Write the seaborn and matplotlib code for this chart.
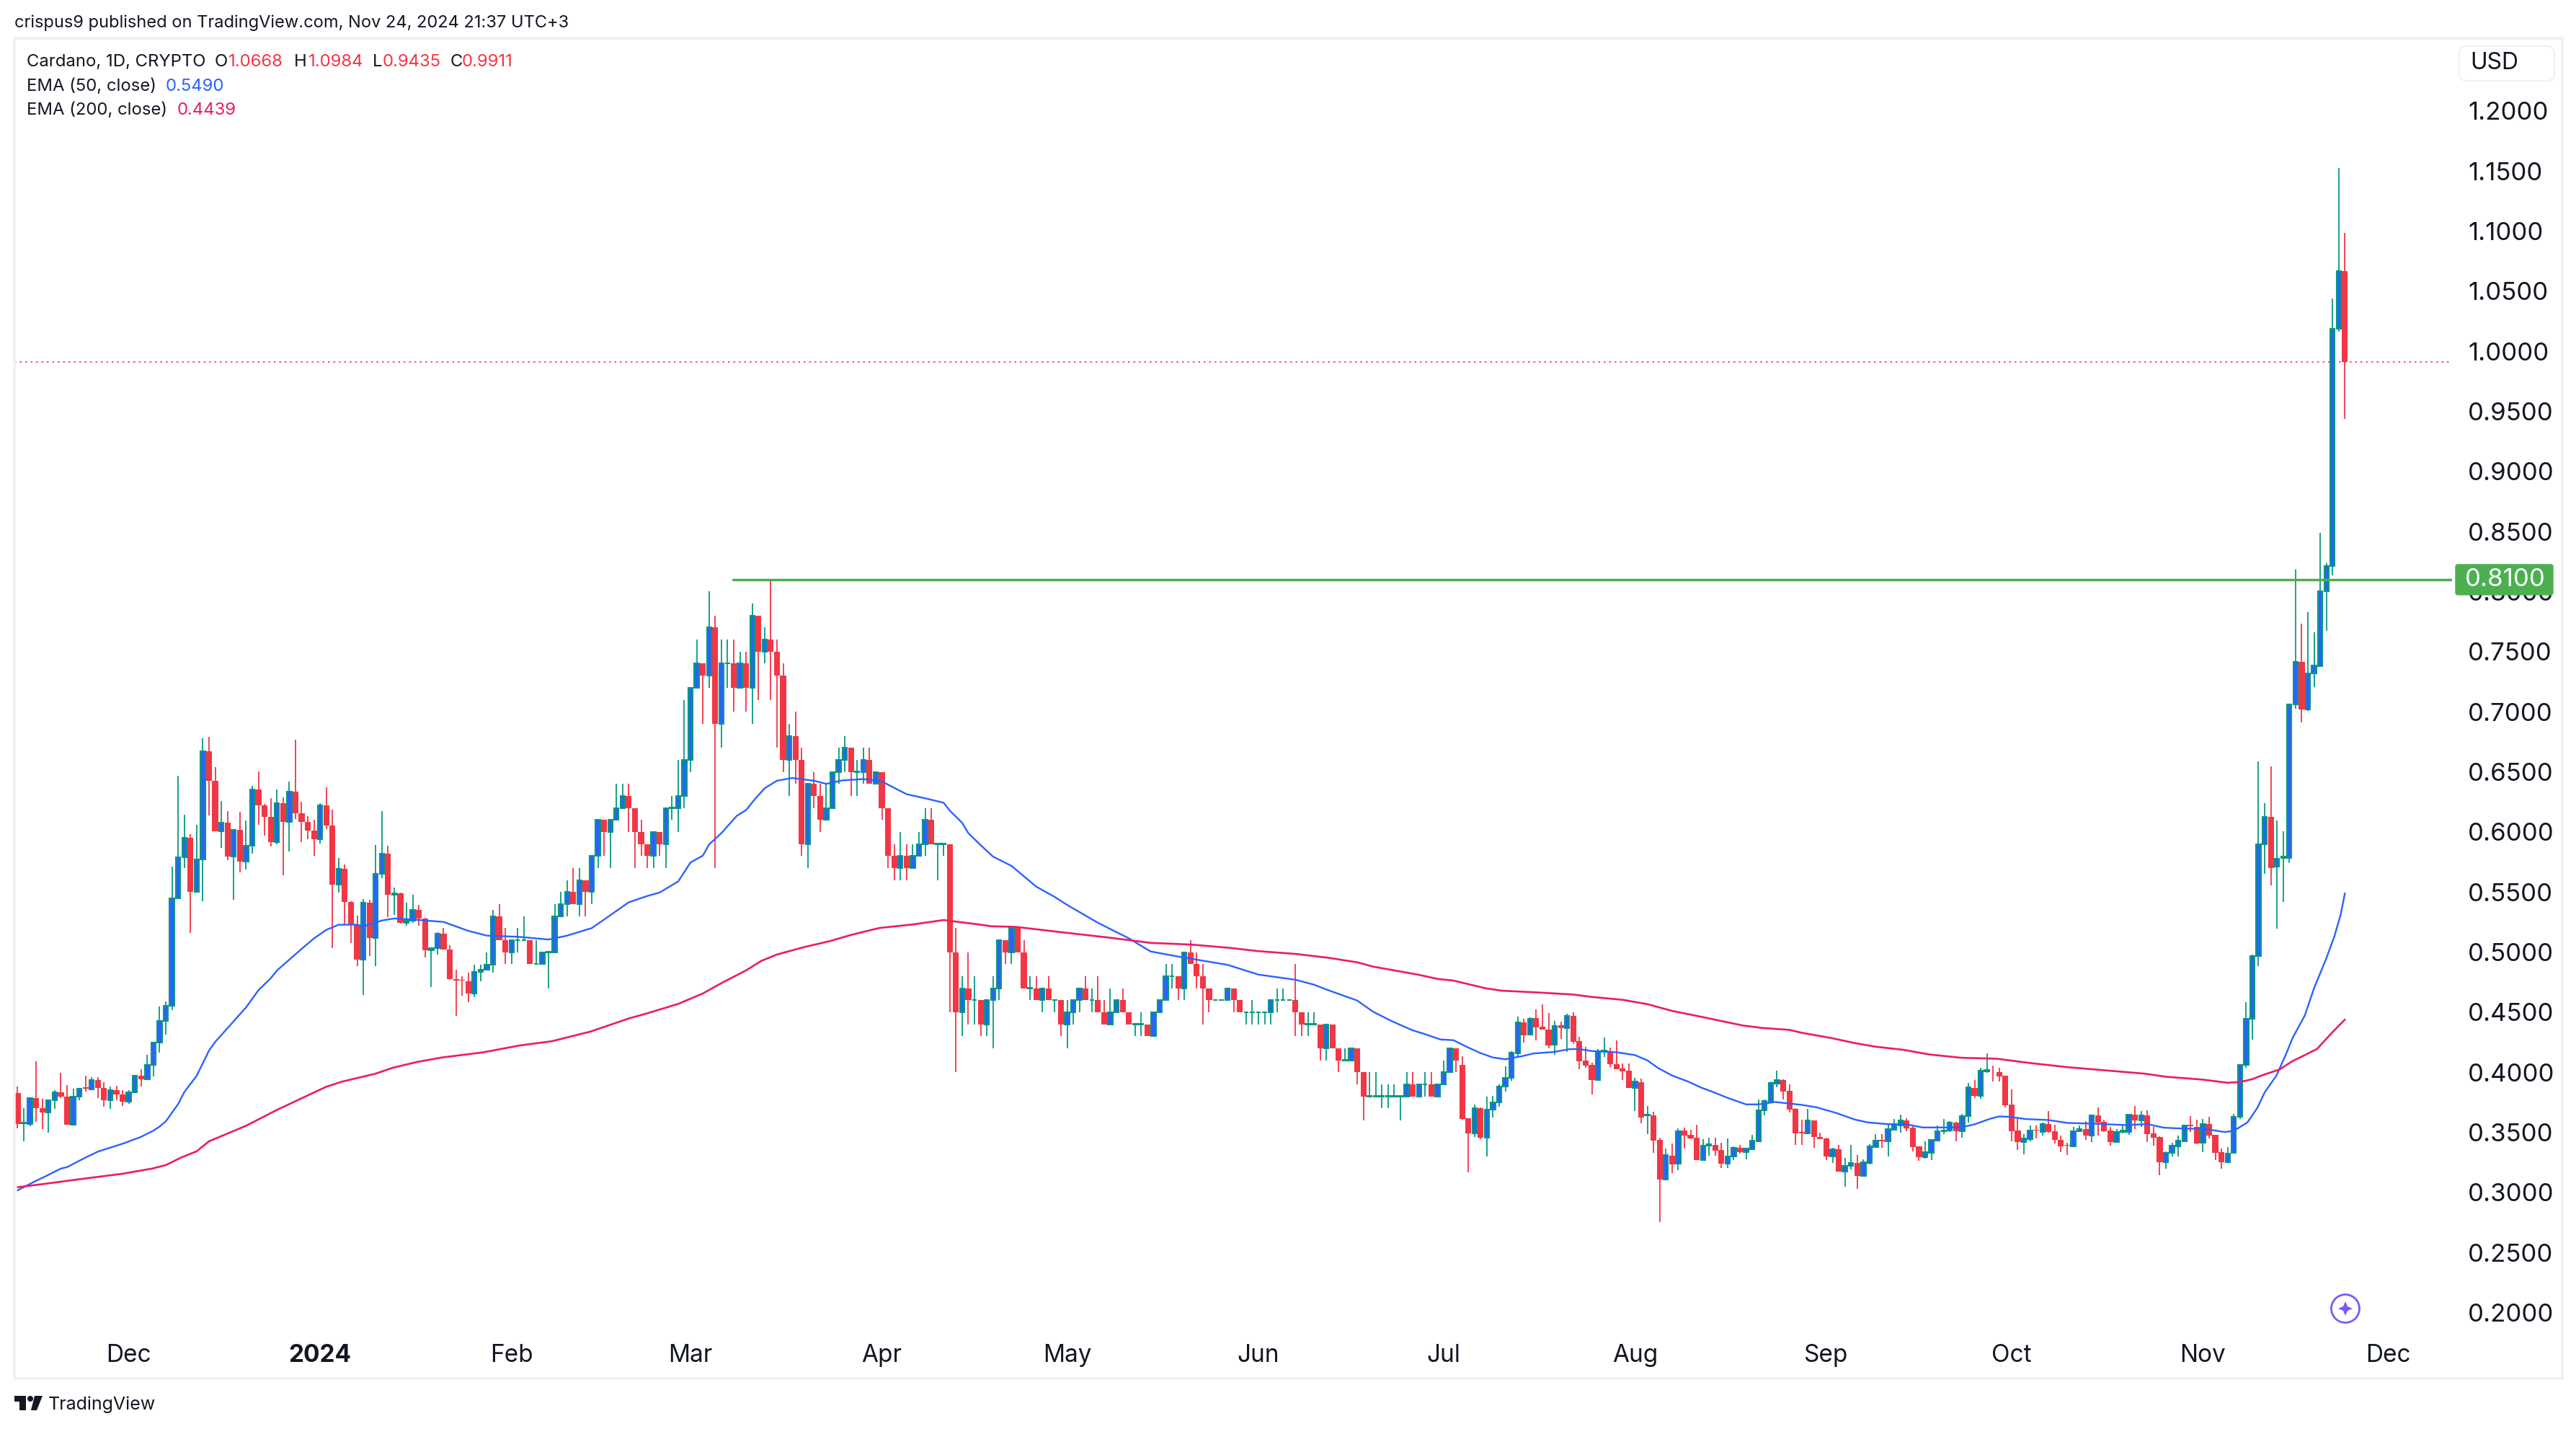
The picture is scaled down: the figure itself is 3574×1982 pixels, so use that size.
"""
Cardano daily candlesticks with EMA 50 / EMA 200 (TradingView style)
"""

import matplotlib
matplotlib.use('Agg')
import matplotlib.pyplot as plt
from matplotlib.patches import Circle, FancyBboxPatch, Polygon, Rectangle
from matplotlib.transforms import Affine2D
import pandas as pd
import seaborn as sns

# Daily candles, first one is Nov 13 2023
start_date = '2023-11-13'

opens = [
    .383, .3575, .3572, .3785, .3704, .3664, .377, .3836, .3799, .3561,
    .3799, .3874, .3856, .3937, .3868, .377, .3854, .3813, .3753, .3836,
    .3974, .3943, .4063, .425, .4425, .4551, .5449, .5788, .5949, .5501,
    .5774, .6672, .6428, .6003, .6075, .5797, .6018, .5756, .5888, .6351,
    .6224, .6127, .5917, .6241, .6086, .6333, .6158, .6081, .6009, .5937,
    .6224, .6052, .5564, .5696, .5415, .5228, .4939, .5409, .5119, .5653,
    .5817, .5475, .5487, .5246, .526, .5349, .5277, .5013, .5036, .5151,
    .5022, .4775, .4769, .4755, .4657, .4835, .4855, .4898, .53, .51,
    .50, .51, .51, .51, .49, .49, .50, .50, .53, .54,
    .55, .54, .56, .55, .58, .61, .60, .61, .62, .63,
    .62, .60, .59, .58, .60, .59, .62, .62, .63, .66,
    .72, .74, .73, .77, .69, .74, .74, .72, .74, .72,
    .78, .75, .76, .75, .73, .66, .68, .66, .59, .64,
    .63, .61, .62, .65, .66, .67, .65, .65, .66, .64,
    .65, .62, .58, .57, .58, .57, .58, .59, .61, .59,
    .59, .59, .50, .45, .47, .46, .46, .44, .46, .47,
    .51, .50, .52, .50, .47, .47, .46, .47, .46, .46,
    .44, .45, .46, .47, .46, .46, .45, .44, .45, .46,
    .45, .44, .44, .44, .43, .45, .46, .48, .48, .47,
    .50, .49, .48, .47, .46, .46, .46, .47, .46, .45,
    .45, .45, .45, .45, .46, .46, .46, .46, .45, .44,
    .44, .44, .42, .44, .42, .41, .41, .42, .40, .38,
    .38, .38, .38, .38, .38, .38, .39, .38, .39, .39,
    .38, .39, .40, .42, .4059, .3615, .3493, .3699, .3457, .3687,
    .3747, .3879, .3953, .4159, .4413, .4313, .4449, .4379, .4355, .4231,
    .4391, .4369, .4469, .4257, .4097, .4059, .3937, .4173, .4175, .4067,
    .4029, .4013, .3871, .3917, .3639, .3639, .3437, .3109, .3303, .3237,
    .3515, .3477, .3453, .3271, .3391, .3395, .3353, .3241, .3297, .3369,
    .3337, .3361, .3425, .3681, .3757, .3907, .3935, .3843, .3693, .3503,
    .3493, .3599, .3463, .3447, .3301, .3357, .3175, .3223, .3243, .3139,
    .3247, .3377, .3437, .3423, .3523, .3559, .3599, .3539, .3383, .3295,
    .3331, .3433, .3507, .3517, .3579, .3511, .3633, .3869, .3805, .4009,
    .4015, .3999, .3969, .3729, .3513, .3421, .3443, .3519, .3501, .3567,
    .3507, .3439, .3393, .3383, .3507, .3527, .3473, .3639, .3585, .3515,
    .3421, .3503, .3505, .3647, .3601, .3639, .3491, .3461, .3253, .3327,
    .3385, .3427, .3561, .3545, .3411, .3567, .3479, .3333, .3253, .3327,
    .3627, .4063, .4443, .4965, .5895, .6123, .5714, .5786, .5786, .7061,
    .7415, .7019, .7318, .7381, .8005, .8215, 1.0185, 1.0668,
]

highs = [
    .388, .3699, .3791, .4089, .3779, .377, .3851, .3994, .3894, .3865,
    .3865, .3971, .396, .3957, .3917, .388, .3888, .3851, .3851, .3974,
    .4023, .4144, .4255, .4548, .4588, .5711, .6468, .6144, .598, .6058,
    .6778, .679, .654, .6256, .6173, .6023, .6167, .6095, .6385, .6506,
    .6233, .6279, .6351, .629, .6422, .6767, .6253, .613, .6101, .6239,
    .6371, .6184, .5782, .5731, .5426, .5303, .5441, .5435, .5891, .6173,
    .5886, .5538, .5495, .5409, .5478, .5392, .5283, .5042, .5168, .52,
    .5056, .4855, .4798, .4832, .4898, .4895, .4999, .535, .54, .52,
    .51, .52, .53, .51, .51, .50, .50, .54, .55, .56,
    .57, .57, .56, .58, .61, .61, .61, .64, .64, .64,
    .62, .61, .59, .60, .60, .62, .63, .66, .71, .72,
    .76, .74, .80, .78, .76, .76, .76, .75, .75, .79,
    .78, .77, .81, .76, .74, .69, .70, .67, .64, .65,
    .64, .64, .65, .67, .68, .67, .66, .67, .67, .65,
    .65, .62, .59, .60, .59, .59, .60, .62, .62, .59,
    .59, .59, .52, .48, .50, .48, .46, .46, .48, .51,
    .51, .52, .52, .51, .48, .48, .47, .48, .46, .46,
    .46, .46, .47, .48, .47, .48, .46, .47, .46, .47,
    .45, .44, .45, .44, .45, .46, .49, .49, .48, .50,
    .51, .50, .49, .47, .46, .46, .47, .47, .46, .45,
    .46, .45, .45, .46, .47, .47, .46, .49, .45, .45,
    .45, .44, .44, .44, .42, .42, .42, .42, .40, .40,
    .40, .39, .39, .39, .38, .40, .40, .39, .40, .40,
    .39, .41, .42, .42, .4133, .3615, .3731, .3709, .3797, .3803,
    .3899, .4047, .4173, .4463, .4443, .4457, .4523, .4563, .4493, .4427,
    .4419, .4487, .4499, .4295, .4211, .4079, .4191, .4289, .4207, .4263,
    .4071, .4071, .3951, .3947, .3717, .3669, .3455, .3363, .3407, .3533,
    .3539, .3519, .3563, .3443, .3453, .3453, .3413, .3447, .3383, .3395,
    .3373, .3479, .3771, .3773, .3923, .4013, .3941, .3899, .3703, .3603,
    .3693, .3599, .3497, .3453, .3369, .3395, .3287, .3393, .3311, .3273,
    .3403, .3483, .3487, .3563, .3611, .3647, .3615, .3553, .3383, .3423,
    .3435, .3559, .3609, .3591, .3587, .3651, .3909, .3933, .4035, .4157,
    .4053, .4037, .3969, .3857, .3615, .3487, .3557, .3557, .3579, .3677,
    .3563, .3471, .3413, .3543, .3559, .3593, .3647, .3707, .3605, .3547,
    .3527, .3567, .3653, .3719, .3677, .3683, .3543, .3465, .3341, .3413,
    .3473, .3563, .3635, .3607, .3611, .3629, .3479, .3363, .3377, .3653,
    .4063, .4583, .4979, .6586, .6241, .6544, .6098, .6005, .7061, .8181,
    .7731, .7828, .7659, .8489, .8236, 1.0438, 1.1524, 1.0984,
]

lows = [
    .3535, .3426, .3549, .359, .3529, .3498, .3693, .3785, .3561, .3561,
    .3765, .3842, .3851, .3785, .3716, .3693, .3765, .3722, .3736, .3831,
    .388, .3934, .3966, .4166, .4316, .4519, .5444, .5702, .5162, .5501,
    .5424, .6138, .6003, .5868, .5768, .5438, .5665, .5688, .5822, .6061,
    .5972, .5877, .59, .5642, .584, .6109, .5917, .5937, .5802, .5906,
    .6026, .5036, .5495, .5228, .5076, .4884, .4646, .4967, .4884, .5616,
    .5291, .5309, .524, .5217, .5243, .5217, .4956, .4709, .4979, .5022,
    .4769, .4471, .4637, .4585, .4626, .4755, .4847, .4832, .51, .49,
    .49, .50, .51, .49, .49, .49, .47, .50, .53, .53,
    .54, .53, .53, .54, .57, .58, .57, .61, .62, .60,
    .57, .58, .57, .57, .58, .57, .61, .60, .62, .65,
    .72, .69, .72, .57, .67, .72, .70, .72, .70, .69,
    .71, .74, .71, .67, .65, .63, .64, .58, .57, .62,
    .60, .61, .62, .64, .65, .63, .63, .64, .64, .64,
    .61, .57, .56, .56, .56, .57, .58, .58, .59, .56,
    .58, .45, .40, .43, .44, .44, .43, .43, .42, .46,
    .49, .49, .50, .47, .46, .46, .45, .46, .45, .43,
    .42, .44, .45, .46, .45, .45, .44, .44, .45, .45,
    .44, .43, .43, .43, .43, .45, .46, .47, .46, .46,
    .49, .47, .44, .45, .46, .46, .46, .45, .45, .44,
    .44, .44, .44, .44, .45, .46, .46, .43, .43, .43,
    .44, .41, .41, .42, .40, .41, .41, .39, .36, .38,
    .38, .37, .37, .38, .36, .38, .38, .38, .38, .38,
    .38, .39, .40, .40, .3607, .3169, .3463, .3443, .3301, .3623,
    .3713, .3839, .3929, .4123, .4249, .4307, .4267, .4357, .4199, .4147,
    .4279, .4167, .4237, .4027, .4039, .3817, .3937, .4127, .4043, .4027,
    .3937, .3871, .3677, .3577, .3487, .3329, .2753, .3109, .3163, .3187,
    .3367, .3443, .3271, .3263, .3307, .3303, .3203, .3203, .3271, .3323,
    .3275, .3355, .3421, .3643, .3747, .3877, .3773, .3663, .3397, .3397,
    .3493, .3373, .3445, .3271, .3247, .3175, .3049, .3193, .3031, .3139,
    .3235, .3373, .3373, .3301, .3517, .3499, .3509, .3343, .3263, .3283,
    .3271, .3433, .3487, .3503, .3427, .3455, .3583, .3785, .3781, .3997,
    .3923, .3923, .3709, .3427, .3353, .3319, .3427, .3447, .3473, .3499,
    .3409, .3337, .3313, .3379, .3503, .3437, .3421, .3473, .3503, .3391,
    .3421, .3493, .3481, .3527, .3547, .3421, .3391, .3143, .3199, .3299,
    .3299, .3427, .3503, .3401, .3337, .3449, .3269, .3199, .3253, .3327,
    .3613, .4039, .4273, .4883, .5651, .5554, .5197, .542, .5744, .7028,
    .6914, .7007, .7205, .7381, .7672, .8135, 1.0164, .9435,
]

closes = [
    .357, .358, .3785, .3704, .3664, .377, .3836, .3799, .3561, .3799,
    .3865, .3865, .3937, .3868, .377, .3854, .3813, .3753, .3836, .3974,
    .3943, .4063, .425, .4425, .4551, .5449, .5788, .5949, .5501, .5774,
    .6672, .6428, .6003, .6075, .5797, .6018, .5756, .5888, .6351, .6224,
    .6127, .5917, .6241, .6086, .6333, .6158, .6081, .6009, .5937, .6224,
    .6052, .5564, .5696, .5415, .5228, .4939, .5409, .5119, .5653, .5817,
    .5475, .5487, .5246, .526, .5349, .5277, .5013, .5036, .5151, .5022,
    .4775, .4761, .4761, .4657, .4835, .4855, .4898, .53, .51, .50,
    .51, .51, .51, .49, .49, .50, .50, .53, .54, .55,
    .54, .56, .55, .58, .61, .60, .61, .62, .63, .62,
    .60, .59, .58, .60, .59, .62, .62, .63, .66, .72,
    .74, .73, .77, .69, .74, .74, .72, .74, .72, .78,
    .75, .76, .75, .73, .66, .68, .66, .59, .64, .63,
    .61, .62, .65, .66, .67, .65, .65, .66, .64, .65,
    .62, .58, .57, .58, .57, .58, .59, .61, .59, .59,
    .59, .50, .45, .47, .46, .46, .44, .46, .47, .51,
    .50, .52, .50, .47, .47, .46, .47, .46, .46, .44,
    .45, .46, .47, .46, .46, .45, .44, .45, .46, .45,
    .44, .44, .44, .43, .45, .46, .48, .48, .47, .50,
    .49, .48, .47, .46, .46, .46, .47, .46, .45, .45,
    .45, .45, .45, .46, .46, .46, .46, .45, .44, .44,
    .44, .42, .44, .42, .41, .41, .42, .40, .38, .38,
    .38, .38, .38, .38, .38, .39, .38, .39, .39, .38,
    .39, .40, .42, .41, .3611, .3493, .3699, .3453, .3689, .3747,
    .3879, .3951, .4161, .4413, .4309, .4443, .4373, .4357, .4223, .4383,
    .4369, .4469, .4253, .4093, .4057, .3937, .4173, .4179, .4069, .4027,
    .4007, .3871, .3921, .3625, .3647, .3433, .3109, .3309, .3235, .3507,
    .3473, .3449, .3271, .3387, .3399, .3349, .3241, .3297, .3369, .3335,
    .3363, .3429, .3681, .3759, .3909, .3933, .3839, .3691, .3493, .3493,
    .3599, .3463, .3445, .3299, .3357, .3175, .3223, .3243, .3139, .3249,
    .3381, .3429, .3427, .3525, .3569, .3597, .3535, .3379, .3295, .3333,
    .3435, .3507, .3517, .3579, .3509, .3633, .3873, .3805, .4011, .4017,
    .4011, .3967, .3725, .3509, .3421, .3447, .3513, .3513, .3567, .3503,
    .3439, .3385, .3387, .3507, .3527, .3473, .3639, .3581, .3509, .3421,
    .3501, .3513, .3645, .3601, .3639, .3487, .3457, .3253, .3327, .3387,
    .3429, .3555, .3553, .3407, .3567, .3475, .3331, .3253, .3325, .3627,
    .4063, .4443, .4965, .5895, .6123, .5702, .5778, .5798, .7061, .7415,
    .7019, .7318, .7386, .8005, .8215, 1.0185, 1.0665, .9911,
]

# EMA readings: day number since the first candle, then price
ema50_days = [
    0, 2.7, 4.8, 7, 8, 11, 13, 17, 20, 22, 23, 24, 26, 27, 29, 31, 32, 35, 37, 39,
    41, 42, 46, 48, 50, 52, 55, 56, 59, 61, 64, 69, 73, 76, 81, 86, 89, 93, 95, 99,
    102, 104, 107, 109, 111, 112, 114, 116.5, 118, 119.5, 121, 123, 125.5, 129, 131,
    133.6, 137, 140, 141.6, 144, 147, 150, 151, 153, 154, 156, 158, 161, 165, 168,
    170, 175, 177, 180, 183.5, 188, 196, 201, 207, 210, 212, 217, 219.6, 222.7, 226,
    228, 230.5, 232.6, 234.7, 237, 239, 241, 243.6, 245.6, 248.8, 251.4, 253, 255,
    259, 262, 264, 265.7, 268, 270.6, 272.7, 274.8, 277, 280, 282, 284.7, 289, 291.4,
    294.5, 297.6, 299.7, 302.9, 306, 308.6, 314.8, 317, 319.5, 321, 322.7, 325.3, 329,
    332, 334.6, 338, 341.4, 345, 347.7, 351.3, 354.4, 357.5, 359, 361.2, 362.8, 364,
    365.9, 367.4, 368.5, 370.5, 372, 374, 375.3, 376.3, 377,
]
ema50 = [
    .3018, .309, .3142, .3199, .3211, .3291, .334, .3406, .3463, .3515, .3549, .3592,
    .3736, .3836, .3971, .4181, .4253, .4425, .454, .4683,
    .4783, .4847, .5027, .5114, .5185, .5228, .5228, .5214, .5263, .528, .5271, .5251,
    .5177, .5137, .5128, .5105, .5137, .52, .5271, .5415,
    .5467, .5496, .5588, .5746, .5803, .5895, .599, .6134, .6182, .6277, .6363, .6426,
    .6449, .6426, .64,
    .6429, .644, .642, .6377, .6314, .628, .6243, .6177, .6076, .599, .589, .5795,
    .5717, .5545, .5459,
    .5393, .5244, .5192, .5115, .5006, .4963, .4894, .4813, .477, .4729, .4689, .4597,
    .4503, .4423, .4349,
    .4317, .4273, .4267, .4213, .4159, .4123, .4109, .4133, .4157, .4169, .4193, .4193,
    .4177,
    .4167, .4143, .4099, .4037, .3973, .3923, .3873, .3833, .3787, .3733, .3733, .3753,
    .3729, .3709,
    .3663, .3607, .3583, .3569, .3567, .3541, .3541, .3567, .3613, .3633, .3629, .3611,
    .3603,
    .3579, .3575, .3569, .3561, .3569, .3539, .3531, .3529, .3503, .3513, .3583, .3703,
    .3833,
    .3973, .4143, .4283, .4473, .47, .495, .5133, .531, .549,
]

ema200_days = [
    0, 5, 10.4, 17, 21.8, 24, 26.5, 29, 31, 37, 42, 47, 50, 52.6, 58, 60.7, 64.7, 68.7,
    75.4, 81.4, 86.5, 92.8, 99, 102, 107, 111, 114, 118, 120.5, 123, 127.5, 131.6, 135,
    139.6, 145, 150, 155.7, 157.7, 161.7, 169, 176.4, 180, 183.5, 190, 196, 201, 207,
    212.3, 217, 219.6, 227, 230, 232.6, 237.8, 240.4, 246, 252, 255, 260, 264, 268, 273,
    279.5, 282.6, 287, 289, 294, 297.6, 301, 305.5, 309.6, 314.8, 320.6, 326, 332, 338,
    344.5, 348, 354, 358, 360, 362, 363.8, 366.4, 368.5, 370.5, 372.5, 375, 377,
]
ema200 = [
    .3044, .3076, .3113, .3156, .3199, .3228, .3291, .3343, .3426, .3555, .3687, .3808,
    .388, .3923, .3989, .4037, .4086, .4123,
    .4166, .4224, .4258, .4339, .4448, .4491, .4569, .4656, .4742, .4848, .4928, .498,
    .5043, .5092, .5143,
    .5201, .523, .5267, .523, .5215, .521, .5166, .5123, .51, .5077, .5063, .5037, .5008,
    .4985,
    .4953, .4915, .4879, .4811, .4777, .4763, .4699, .4679, .4665, .4647, .4627, .4603,
    .4567, .4511, .4459,
    .4389, .4369, .4353, .4329, .4283, .4243, .4213, .4187, .4149, .4121, .4113, .4077,
    .4043, .4017,
    .3989, .3963, .3939, .3913, .3919, .3943, .3979, .4023, .4093, .4143, .4195, .4335,
    .4439,
]

y_ticks = [.20, .25, .30, .35, .40, .45, .50, .55, .60, .65, .70, .75, .80, .85, .90,
           .95, 1.00, 1.05, 1.10, 1.15, 1.20]
month_dates = ['2023-12-01', '2024-01-01', '2024-02-01', '2024-03-01', '2024-04-01',
               '2024-05-01', '2024-06-01', '2024-07-01', '2024-08-01', '2024-09-01',
               '2024-10-01', '2024-11-01', '2024-12-01']
month_labels = ['Dec', '2024', 'Feb', 'Mar', 'Apr', 'May', 'Jun', 'Jul', 'Aug', 'Sep',
                'Oct', 'Nov', 'Dec']

last_price = 0.9911
level_price = 0.81

RED = '#F23645'
GREEN = '#089981'
BLUE = '#2962FF'
PINK = '#E91E63'
INK = '#131722'
FRAME = '#F0F0F6'
LEVEL = '#4CAF50'
PURPLE = '#7E57FF'

WIDTH, HEIGHT = 3574, 1982
DPI = 100

sns.set_theme(style='white')
plt.rcParams['font.family'] = ['Inter', 'DejaVu Sans']

df = pd.DataFrame({'open': opens, 'high': highs, 'low': lows, 'close': closes})
df['day'] = df.index
df['up'] = df['close'] >= df['open']
up = df[df['up']]
down = df[~df['up']]

fig = plt.figure(figsize=(WIDTH / DPI, HEIGHT / DPI), dpi=DPI, facecolor='white')
# top-left pixel coordinates for the page furniture
pix = Affine2D().scale(1, -1).translate(0, HEIGHT)

ax_left, ax_right, ax_top, ax_bottom = 20, 3402, 53, 1845
ax = fig.add_axes([ax_left / WIDTH, 1 - ax_bottom / HEIGHT,
                   (ax_right - ax_left) / WIDTH, (ax_bottom - ax_top) / HEIGHT])
ax.set_xlim(-0.525, 394.35)
ax.set_ylim(0.1854, 1.2604)
ax.set_facecolor('white')
sns.despine(ax=ax, left=True, bottom=True, right=True, top=True)

# last price and drawn level
ax.plot([-0.525, 394.35], [last_price, last_price], color=RED, lw=1.2,
        linestyle=(0, (1.5, 3)), zorder=1)
ax.plot([115.9, 394.35], [level_price, level_price], color=LEVEL, lw=2.5, zorder=4,
        solid_capstyle='round')

# wicks
ax.vlines(up['day'], up['low'], up['high'], color=GREEN, lw=1.3, zorder=2)
ax.vlines(down['day'], down['low'], down['high'], color=RED, lw=1.3, zorder=2)

# bodies
ax.bar(down['day'], down['open'] - down['close'], bottom=down['close'], width=0.95,
       color=RED, linewidth=0, zorder=3)
ax.bar(up['day'], (up['close'] - up['open']).clip(lower=0.0002), bottom=up['open'],
       width=0.74, color=BLUE, edgecolor=GREEN, linewidth=1.5, zorder=3)

# moving averages
sns.lineplot(x=ema50_days, y=ema50, ax=ax, color=BLUE, lw=1.7, sort=False,
             estimator=None, zorder=5)
sns.lineplot(x=ema200_days, y=ema200, ax=ax, color=PINK, lw=1.9, sort=False,
             estimator=None, zorder=5)

# axes ticks
first = pd.Timestamp(start_date)
ax.set_xticks([(pd.Timestamp(d) - first).days for d in month_dates])
ax.set_xticklabels(month_labels)
ax.yaxis.tick_right()
ax.set_yticks(y_ticks)
ax.set_yticklabels([f'{v:.4f}' for v in y_ticks])
ax.tick_params(axis='x', length=0, pad=13.5, labelsize=24, labelcolor=INK)
ax.tick_params(axis='y', length=0, pad=16, labelsize=25, labelcolor=INK)
ax.get_xticklabels()[1].set_fontweight('bold')

# frame around the chart
fig.add_artist(Rectangle((20, 53), 3535, 1859, transform=pix, fill=False,
                         edgecolor=FRAME, lw=2.6, zorder=2))

# level tag over the price scale
fig.add_artist(FancyBboxPatch((3407, 783), 135, 42, transform=pix, facecolor=LEVEL,
                              edgecolor=LEVEL, lw=1,
                              boxstyle='round,pad=0,rounding_size=3', zorder=5))
fig.text(3476, 804, f'{level_price:.4f}', transform=pix, color='white', fontsize=25,
         ha='center', va='center', zorder=6)

# currency button
fig.add_artist(FancyBboxPatch((3412, 64), 132, 48, transform=pix, facecolor='white',
                              edgecolor=FRAME, lw=1.4,
                              boxstyle='round,pad=0,rounding_size=10', zorder=5))
fig.text(3461, 88, 'USD', transform=pix, color=INK, fontsize=23, ha='center',
         va='center', zorder=6)

# header and legend
fig.text(20, 32, 'crispus9 published on TradingView.com, Nov 24, 2024 21:37 UTC+3',
         transform=pix, color=INK, fontsize=17, va='center')
legend_rows = [
    (37, 86, 'Cardano, 1D, CRYPTO', INK), (298, 86, 'O', INK), (317, 86, '1.0668', RED),
    (408, 86, 'H', INK), (428, 86, '1.0984', RED), (517, 86, 'L', INK),
    (531, 86, '0.9435', RED), (625, 86, 'C', INK), (641, 86, '0.9911', RED),
    (37, 120, 'EMA (50, close)', INK), (230, 120, '0.5490', BLUE),
    (37, 153, 'EMA (200, close)', INK), (246, 153, '0.4439', PINK),
]
for tx, ty, label, colour in legend_rows:
    fig.text(tx, ty, label, transform=pix, color=colour, fontsize=17.2, va='center')

# assistant button
fig.add_artist(Circle((3254, 1815), 19.5, transform=pix, fill=False, edgecolor=PURPLE,
                      lw=2.0, zorder=5))
fig.add_artist(Polygon([(3254, 1805), (3257, 1812), (3264, 1815), (3257, 1818), (3254, 1825),
                        (3251, 1818), (3244, 1815), (3251, 1812)], transform=pix,
                       facecolor=PURPLE, edgecolor='none', zorder=5))

# TradingView logo
fig.add_artist(Polygon([(20, 1936), (36, 1936), (36, 1956), (27, 1956), (27, 1944), (20, 1944)],
                       transform=pix, facecolor=INK, edgecolor='none', zorder=5))
fig.add_artist(Circle((42, 1940), 4, transform=pix, facecolor=INK, edgecolor='none', zorder=5))
fig.add_artist(Polygon([(48, 1936), (59, 1936), (51, 1956), (43, 1956)], transform=pix,
                       facecolor=INK, edgecolor='none', zorder=5))
fig.text(67, 1948, 'TradingView', transform=pix, color=INK, fontsize=18, va='center')

fig.savefig('out.png', dpi=DPI, facecolor='white')
